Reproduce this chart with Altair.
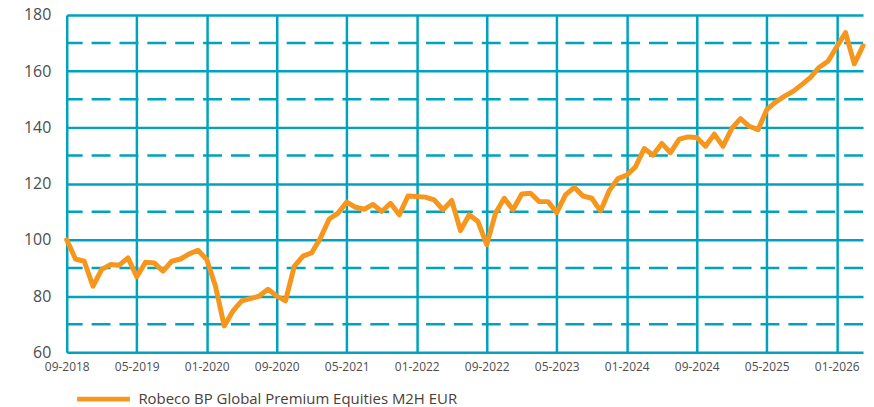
import altair as alt
import pandas as pd

# Monthly index values, 09-2018 .. 04-2026
values = [
    100, 93.2, 92.4, 83.5, 89.5, 91.2, 91, 93.6, 86.9, 92,
    91.8, 88.9, 92.4, 93.2, 95, 96.3, 93, 83.5, 69.4, 74.7,
    78.3, 79.1, 80, 82.4, 80, 78.3, 90.6, 94.2, 95.4, 100.7,
    107.4, 109.5, 113.4, 111.6, 110.9, 112.6, 110.1, 113, 108.9, 115.6,
    115.4, 115.2, 114.2, 110.7, 114, 103.3, 108.9, 106.5, 98.3, 109.5,
    114.8, 110.7, 116.3, 116.6, 113.6, 113.6, 109.7, 116, 118.7, 115.6,
    114.8, 110.3, 117.5, 121.8, 123, 126, 132.5, 130.1, 134.3, 131,
    135.8, 136.6, 136.4, 133.3, 137.6, 133.3, 139.6, 143.1, 140.4, 139.2,
    146.3, 149, 151, 152.8, 155.2, 157.8, 161.4, 163.5, 168.7, 173.7,
    162.6, 169,
]
series_name = "Robeco BP Global Premium Equities M2H EUR"
tick_labels = ["09-2018", "05-2019", "01-2020", "09-2020", "05-2021", "01-2022",
               "09-2022", "05-2023", "01-2024", "09-2024", "05-2025", "01-2026"]
tick_step = 8  # months between labelled ticks
y_ticks = [60, 80, 100, 120, 140, 160, 180]
dash_levels = [70, 90, 110, 130, 150, 170]

TEAL = "#00A3BB"
ORANGE = "#F7961C"
FONT = "Open Sans"

df = pd.DataFrame({"m": list(range(len(values))), "value": values, "series": series_name})
dash_df = pd.DataFrame({"level": dash_levels})

label_array = "[" + ",".join(f"'{t}'" for t in tick_labels) + "]"
x_tick_vals = [i * tick_step for i in range(len(tick_labels))]

y_scale = alt.Scale(domain=[60, 180], nice=False, zero=False)

dashes = alt.Chart(dash_df).mark_rule(
    color=TEAL, strokeWidth=2.5, strokeDash=[19, 9]
).encode(
    y=alt.Y("level:Q", scale=y_scale, title=None)
)

line = alt.Chart(df).mark_line(
    strokeWidth=5, strokeJoin="round", strokeCap="round"
).encode(
    x=alt.X("m:Q",
            scale=alt.Scale(domain=[0, len(values) - 1], nice=False, zero=False),
            axis=alt.Axis(values=x_tick_vals, labelExpr=f"{label_array}[round(datum.value/{tick_step})]",
                          grid=True, gridColor=TEAL, gridWidth=2.5, domain=False, ticks=False,
                          labelFontSize=12, labelColor="#4d4d4d", labelFont=FONT, labelPadding=9,
                          labelFlush=False, labelOverlap=False),
            title=None),
    y=alt.Y("value:Q", scale=y_scale,
            axis=alt.Axis(values=y_ticks, grid=True, gridColor=TEAL, gridWidth=2.5,
                          domain=False, ticks=False, labelFontSize=16, labelColor="#4d4d4d",
                          labelFont=FONT, labelPadding=16),
            title=None),
    color=alt.Color("series:N", scale=alt.Scale(range=[ORANGE]),
                    legend=alt.Legend(title=None, orient="none", legendX=8, legendY=357,
                                      symbolType="stroke", symbolSize=2809, symbolStrokeWidth=5,
                                      labelFontSize=15, labelColor="#4b4036", labelFont=FONT,
                                      labelOffset=6, labelLimit=600, padding=0)),
)

chart = alt.layer(dashes, line).properties(
    width=800, height=339,
    padding={"left": 15, "top": -2, "right": 0, "bottom": 0},
).configure_view(stroke=None)

chart.save("out.html", embed_options={"renderer": "svg", "actions": False})
